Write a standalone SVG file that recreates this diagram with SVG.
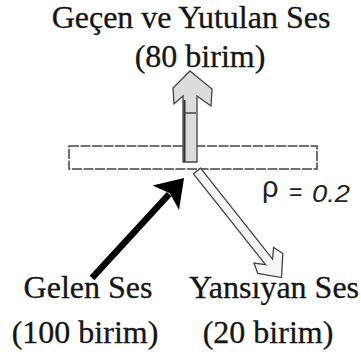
<svg xmlns="http://www.w3.org/2000/svg" width="361" height="358" viewBox="0 0 361 358">
  <style>
    .lbl { font-family: "Liberation Serif", "Times New Roman", serif; font-size: 32px; fill: #151515; stroke: #151515; stroke-width: 0.3; text-anchor: middle; }
    .rho { font-family: "Liberation Sans", Arial, sans-serif; font-size: 23px; fill: #222; }
    .hollow { stroke: #444; stroke-width: 1.3; stroke-linejoin: miter; }
  </style>
  <rect width="361" height="358" fill="#ffffff"/>

  <g id="plate">
    <rect x="69" y="146" width="248" height="23" fill="#ffffff" stroke="#444" stroke-width="1.5" stroke-dasharray="10 1.5"/>
  </g>

  <g id="connectors">
    <g id="transmitted-arrow">
      <polygon class="hollow" fill="#dcdcdc" points="190,71 212,89 211,106 197,96 197,162 183,162 183,96 174,104 173,88"/>
      <line x1="184.5" y1="100" x2="184.5" y2="162" stroke="#333" stroke-width="2"/>
      <line x1="184" y1="113" x2="196" y2="113" stroke="#444" stroke-width="1.5"/>
    </g>
    <g id="incident-arrow" transform="translate(92,278) rotate(-47.4)">
      <line x1="0" y1="0" x2="114" y2="0" stroke="#000" stroke-width="6.5"/>
      <polygon fill="#000" points="136,0 109,-18 115,0 109,18"/>
    </g>
    <g id="reflected-arrow" transform="translate(197,171) rotate(51.6)">
      <polygon class="hollow" fill="#f6f6f6" points="0,-4.5 116,-4.5 107.5,-12.5 118,-16 136,0 118,16 107.5,12.5 116,4.5 0,4.5"/>
    </g>
  </g>

  <g id="label-transmitted">
    <text class="lbl" x="191" y="28">Geçen ve Yutulan Ses</text>
    <text class="lbl" x="200" y="67">(80 birim)</text>
  </g>

  <g id="label-rho">
    <text class="rho" y="202"><tspan x="262" y="197" font-size="29">ρ</tspan><tspan x="289" y="200">=</tspan><tspan x="312" y="202" font-style="italic" textLength="38" lengthAdjust="spacingAndGlyphs">0.2</tspan></text>
  </g>

  <g id="label-incident">
    <text class="lbl" x="88" y="298">Gelen Ses</text>
    <text class="lbl" x="85" y="343">(100 birim)</text>
  </g>

  <g id="label-reflected">
    <text class="lbl" x="274" y="298">Yansıyan Ses</text>
    <text class="lbl" x="268" y="343">(20 birim)</text>
  </g>
</svg>
